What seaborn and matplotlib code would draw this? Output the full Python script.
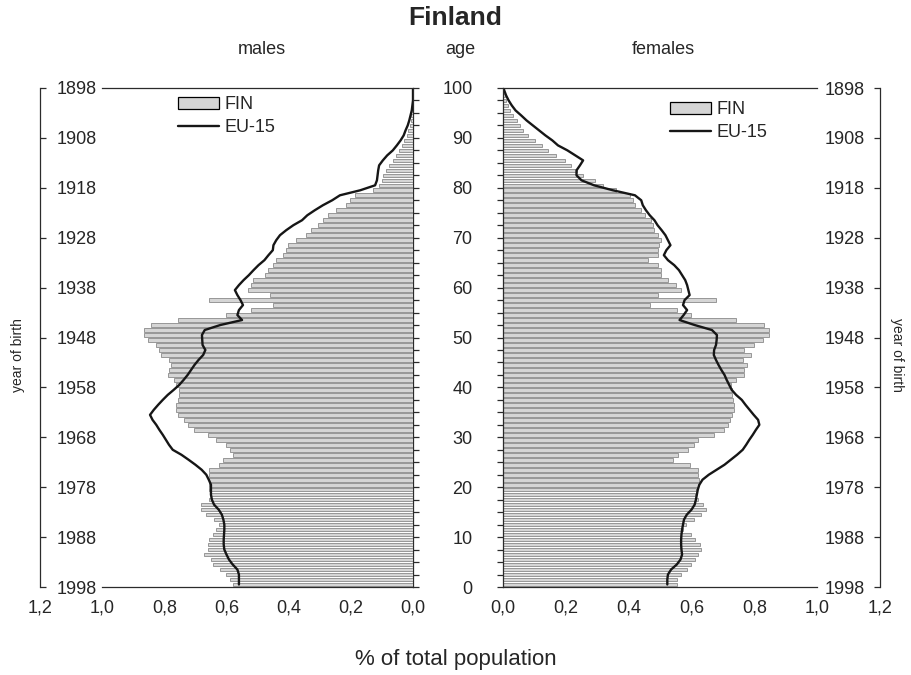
import numpy as np
import pandas as pd
import matplotlib
matplotlib.use("Agg")
import matplotlib.pyplot as plt
import seaborn as sns
from matplotlib.patches import Patch
from matplotlib.lines import Line2D


# DATA (share of total population by single year of age 0..100, Finland 1998)

ages = list(range(0, 101))

male_fin = [
    0.58, 0.59, 0.60, 0.62, 0.644, 0.65, 0.671, 0.66, 0.66, 0.655,
    0.644, 0.634, 0.623, 0.639, 0.666, 0.682, 0.682, 0.655, 0.65, 0.655,
    0.655, 0.655, 0.655, 0.655, 0.623, 0.61, 0.58, 0.59, 0.601, 0.634,
    0.66, 0.703, 0.725, 0.736, 0.757, 0.762, 0.762, 0.757, 0.752, 0.752,
    0.762, 0.768, 0.789, 0.784, 0.778, 0.784, 0.811, 0.816, 0.827, 0.854,
    0.865, 0.865, 0.843, 0.757, 0.60, 0.52, 0.45, 0.655, 0.461, 0.53,
    0.52, 0.515, 0.477, 0.466, 0.45, 0.44, 0.418, 0.408, 0.402, 0.375,
    0.343, 0.327, 0.305, 0.29, 0.273, 0.248, 0.214, 0.203, 0.187, 0.128,
    0.11, 0.10, 0.095, 0.088, 0.078, 0.065, 0.055, 0.045, 0.035, 0.028,
    0.02, 0.015, 0.01, 0.008, 0.006, 0.004, 0.003, 0.002, 0.001, 0.0,
    0.0,
]

male_eu = [
    0.56, 0.56, 0.56, 0.565, 0.58, 0.592, 0.60, 0.607, 0.609, 0.609,
    0.608, 0.607, 0.607, 0.61, 0.615, 0.625, 0.64, 0.647, 0.65, 0.65,
    0.65, 0.657, 0.665, 0.68, 0.70, 0.722, 0.745, 0.773, 0.785, 0.795,
    0.805, 0.816, 0.826, 0.838, 0.846, 0.834, 0.82, 0.805, 0.789, 0.77,
    0.752, 0.738, 0.725, 0.714, 0.703, 0.69, 0.675, 0.668, 0.677, 0.678,
    0.679, 0.67, 0.62, 0.55, 0.565, 0.56, 0.547, 0.555, 0.565, 0.573,
    0.56, 0.545, 0.528, 0.513, 0.497, 0.478, 0.465, 0.451, 0.449, 0.44,
    0.428, 0.408, 0.385, 0.357, 0.34, 0.316, 0.29, 0.26, 0.235, 0.17,
    0.122, 0.116, 0.114, 0.112, 0.109, 0.097, 0.083, 0.065, 0.052, 0.04,
    0.03, 0.024, 0.017, 0.012, 0.008, 0.004, 0.002, 0.0, 0.0, 0.0,
    0.0,
]

female_fin = [
    0.555, 0.555, 0.565, 0.585, 0.60, 0.612, 0.622, 0.63, 0.628, 0.612,
    0.60, 0.573, 0.583, 0.607, 0.63, 0.646, 0.636, 0.62, 0.61, 0.615,
    0.622, 0.625, 0.622, 0.62, 0.594, 0.541, 0.557, 0.588, 0.607, 0.62,
    0.673, 0.705, 0.715, 0.724, 0.728, 0.734, 0.734, 0.731, 0.728, 0.728,
    0.726, 0.742, 0.766, 0.766, 0.777, 0.763, 0.789, 0.768, 0.80, 0.826,
    0.848, 0.848, 0.832, 0.742, 0.60, 0.555, 0.467, 0.678, 0.493, 0.567,
    0.551, 0.525, 0.504, 0.504, 0.493, 0.461, 0.493, 0.493, 0.498, 0.504,
    0.493, 0.482, 0.477, 0.472, 0.451, 0.44, 0.419, 0.414, 0.403, 0.36,
    0.319, 0.292, 0.255, 0.234, 0.218, 0.197, 0.17, 0.144, 0.123, 0.102,
    0.08, 0.065, 0.054, 0.043, 0.033, 0.022, 0.015, 0.01, 0.006, 0.003,
    0.0,
]

female_eu = [
    0.523, 0.523, 0.525, 0.535, 0.553, 0.565, 0.57, 0.568, 0.567, 0.567,
    0.568, 0.57, 0.573, 0.576, 0.585, 0.60, 0.61, 0.614, 0.617, 0.62,
    0.625, 0.635, 0.655, 0.68, 0.705, 0.725, 0.745, 0.763, 0.774, 0.784,
    0.795, 0.805, 0.816, 0.812, 0.798, 0.785, 0.772, 0.76, 0.742, 0.728,
    0.72, 0.712, 0.705, 0.695, 0.686, 0.678, 0.671, 0.672, 0.678, 0.68,
    0.681, 0.665, 0.61, 0.562, 0.575, 0.586, 0.573, 0.578, 0.594, 0.59,
    0.586, 0.58, 0.57, 0.56, 0.545, 0.525, 0.512, 0.52, 0.533, 0.525,
    0.517, 0.505, 0.492, 0.482, 0.467, 0.455, 0.445, 0.44, 0.42, 0.35,
    0.29, 0.25, 0.234, 0.234, 0.245, 0.255, 0.23, 0.205, 0.175, 0.157,
    0.135, 0.115, 0.095, 0.075, 0.058, 0.04, 0.028, 0.018, 0.01, 0.004,
    0.0,
]

year_ticks = list(range(0, 101, 10))
year_labels = [str(1998 - a) for a in year_ticks]
x_ticks = [0.0, 0.2, 0.4, 0.6, 0.8, 1.0, 1.2]
x_labels = ["0,0", "0,2", "0,4", "0,6", "0,8", "1,0", "1,2"]


df = pd.DataFrame({
    "pos": np.array(ages) + 0.5,
    "male_fin": male_fin,
    "male_eu": male_eu,
    "female_fin": female_fin,
    "female_eu": female_eu,
})

sns.set_style("white")
plt.rcParams["font.family"] = ["Liberation Sans", "DejaVu Sans"]

BAR_FACE = "#d5d5d5"
BAR_EDGE = "#8a8a8a"
LINE_C = "#161616"
SPINE_C = "#2b2b2b"

fig = plt.figure(figsize=(9.11, 6.75), dpi=100)
ax1 = fig.add_axes([40 / 911, 1 - 587 / 675, 373 / 911, 499 / 675])
ax2 = fig.add_axes([503 / 911, 1 - 587 / 675, 377 / 911, 499 / 675])


def draw_side(ax, fin_col, eu_col):
    sns.barplot(data=df, x=fin_col, y="pos", orient="h", native_scale=True,
                color=BAR_FACE, edgecolor=BAR_EDGE, linewidth=0.6,
                width=0.72, errorbar=None, saturation=1, ax=ax)
    sns.lineplot(data=df, x=eu_col, y="pos", orient="y", color=LINE_C,
                 linewidth=1.7, legend=False, ax=ax)
    ax.set_xlabel("")
    ax.set_ylabel("")
    ax.set_ylim(0, 100)
    for s in ax.spines.values():
        s.set_color(SPINE_C)
        s.set_linewidth(0.9)
    ax.spines["top"].set_bounds(0, 1.0)
    ax.spines["bottom"].set_bounds(0, 1.0)
    ax.set_xticks(x_ticks)
    ax.set_xticklabels(x_labels)
    ax.tick_params(axis="x", direction="out", length=4, width=0.9,
                   color=SPINE_C, labelsize=13, pad=5)
    ax.xaxis.get_major_ticks()[-1].tick1line.set_visible(False)


# MALES (left)
draw_side(ax1, "male_fin", "male_eu")
ax1.set_xlim(1.2, 0)
ax1.spines["right"].set_visible(False)
ax1.set_yticks(year_ticks)
ax1.set_yticklabels(year_labels)
ax1.tick_params(axis="y", left=True, right=False, direction="in", length=4,
                width=0.9, color=SPINE_C, labelsize=13, pad=-12)
for t in ax1.get_yticklabels():
    t.set_horizontalalignment("left")

sec1 = ax1.secondary_yaxis("right")
sec1.set_yticks(np.arange(0, 101, 2.5))
sec1.tick_params(axis="y", direction="out", length=4, width=0.9,
                 color=SPINE_C, labelright=False)
sec1.spines["right"].set_color(SPINE_C)
sec1.spines["right"].set_linewidth(0.9)

# FEMALES (right)
draw_side(ax2, "female_fin", "female_eu")
ax2.set_xlim(0, 1.2)
ax2.spines["right"].set_visible(False)
ax2.set_yticks(year_ticks)
ax2.set_yticklabels([str(a) for a in year_ticks])
ax2.set_yticks(np.arange(0, 101, 2.5), minor=True)
ax2.tick_params(axis="y", which="both", left=True, direction="out",
                length=4, width=0.9, color=SPINE_C, labelsize=13, pad=18)

sec2 = ax2.secondary_yaxis("right")
sec2.set_yticks(year_ticks)
sec2.set_yticklabels(year_labels)
sec2.tick_params(axis="y", direction="in", length=4, width=0.9,
                 color=SPINE_C, labelsize=13, pad=-11)
for t in sec2.get_yticklabels():
    t.set_horizontalalignment("right")
sec2.spines["right"].set_color(SPINE_C)
sec2.spines["right"].set_linewidth(0.9)

# LEGENDS
handles = [Patch(facecolor=BAR_FACE, edgecolor="black", linewidth=0.9),
           Line2D([], [], color=LINE_C, linewidth=1.7)]
for ax, anchor in [(ax1, (0.37, 0.983)), (ax2, (0.443, 0.973))]:
    ax.legend(handles, ["FIN", "EU-15"], loc="upper left",
              bbox_to_anchor=anchor, frameon=False, fontsize=13,
              handlelength=2.25, handleheight=0.65, handletextpad=0.3,
              labelspacing=0.3, borderpad=0, borderaxespad=0)

# TEXTS
fig.text(0.5, 1 - 18 / 675, "Finland", ha="center", va="center",
         fontsize=19, fontweight="bold")
fig.text(262 / 911, 1 - 50 / 675, "males", ha="center", va="center", fontsize=13)
fig.text(460 / 911, 1 - 50 / 675, "age", ha="center", va="center", fontsize=13)
fig.text(663 / 911, 1 - 50 / 675, "females", ha="center", va="center", fontsize=13)
fig.text(456 / 911, 1 - 660 / 675, "% of total population", ha="center",
         va="center", fontsize=16)
fig.text(18 / 911, 1 - 355 / 675, "year of birth", ha="center", va="center",
         rotation=90, fontsize=10)
fig.text(897 / 911, 1 - 355 / 675, "year of birth", ha="center", va="center",
         rotation=270, fontsize=10)

fig.savefig("out.png", dpi=100)
